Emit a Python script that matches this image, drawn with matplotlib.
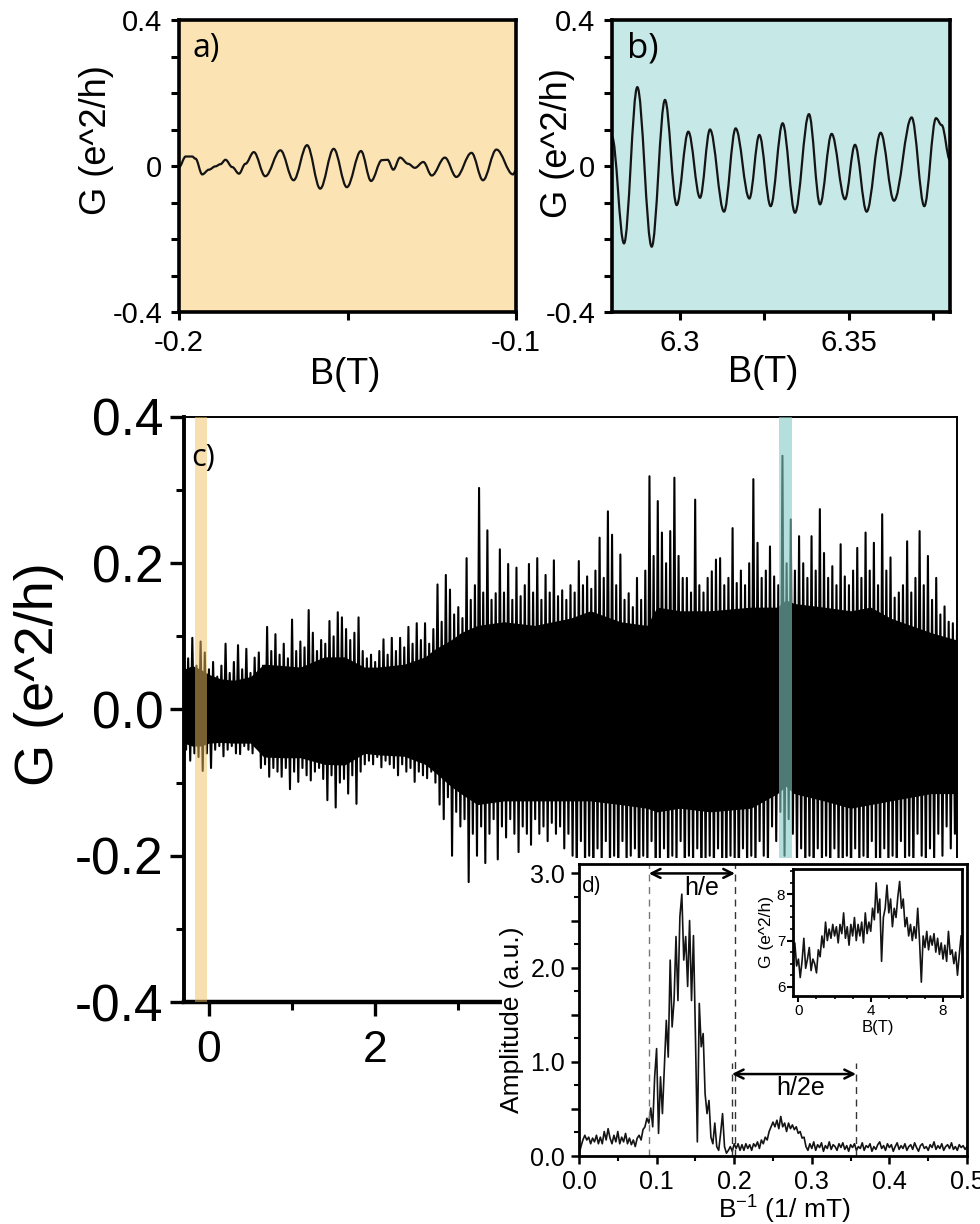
import numpy as np
import matplotlib
matplotlib.use("Agg")
import matplotlib.pyplot as plt
from matplotlib.patches import Rectangle, PathPatch
from matplotlib.path import Path
from matplotlib.ticker import MultipleLocator

plt.rcParams['font.family'] = ['Liberation Sans', 'DejaVu Sans']
plt.rcParams['axes.unicode_minus'] = False

# ---------------- data ----------------
# (a) low-field trace: turning points, B in T, G in e^2/h
a_B = [-0.2000, -0.1980, -0.1961, -0.1951, -0.1931, -0.1911, -0.1892, -0.1877,
       -0.1862, -0.1842, -0.1822, -0.1803, -0.1778, -0.1744, -0.1699, -0.1660,
       -0.1620, -0.1581, -0.1541, -0.1502, -0.1460, -0.1430, -0.1398, -0.1381,
       -0.1364, -0.1344, -0.1320, -0.1300, -0.1275, -0.1250, -0.1211, -0.1177,
       -0.1132, -0.1098, -0.1058, -0.1009, -0.1000]
a_G = [-0.003, 0.026, 0.026, 0.020, -0.023, -0.010, -0.001, 0.005,
       0.017, -0.003, -0.021, 0.006, 0.038, -0.028, 0.043, -0.039,
       0.057, -0.062, 0.047, -0.058, 0.041, -0.041, 0.016, 0.017,
       -0.010, 0.023, 0.006, -0.005, 0.011, -0.026, 0.023, -0.030,
       0.036, -0.039, 0.045, -0.023, -0.012]

# (b) high-field trace: turning points
b_B = [6.2800, 6.28355, 6.28749, 6.29174, 6.29568, 6.29913, 6.30258, 6.30604,
       6.30899, 6.31314, 6.31659, 6.32063, 6.32359, 6.32694, 6.33049, 6.33414,
       6.33828, 6.34154, 6.34499, 6.34893, 6.35189, 6.35534, 6.35949, 6.36343,
       6.36866, 6.37240, 6.37586, 6.37754, 6.3800]
b_G = [0.080, -0.212, 0.216, -0.221, 0.181, -0.107, 0.094, -0.087,
       0.100, -0.125, 0.103, -0.089, 0.085, -0.110, 0.117, -0.128,
       0.142, -0.105, 0.088, -0.091, 0.058, -0.125, 0.091, -0.095,
       0.133, -0.110, 0.131, 0.112, 0.016]

# (c) full sweep -0.3..9 T: maxima and minima of the oscillation, one pair per 0.05 T
c_start, c_step = -0.30, 0.05
c_max = [0.05, 0.07, 0.098, 0.06, 0.093, 0.078, 0.055, 0.065, 0.045, 0.06,
         0.09, 0.05, 0.065, 0.088, 0.055, 0.083, 0.05, 0.071, 0.078, 0.06,
         0.113, 0.08, 0.103, 0.075, 0.09, 0.07, 0.123, 0.08, 0.093, 0.085,
         0.136, 0.105, 0.08, 0.095, 0.09, 0.121, 0.1, 0.133, 0.126, 0.11,
         0.095, 0.105, 0.126, 0.08, 0.07, 0.075, 0.065, 0.08, 0.096, 0.075,
         0.098, 0.08, 0.098, 0.085, 0.113, 0.09, 0.118, 0.095, 0.118, 0.09,
         0.11, 0.171, 0.12, 0.184, 0.164, 0.13, 0.14, 0.125, 0.207, 0.15,
         0.17, 0.303, 0.16, 0.245, 0.15, 0.159, 0.219, 0.16, 0.199, 0.15,
         0.194, 0.155, 0.17, 0.199, 0.16, 0.207, 0.15, 0.184, 0.16, 0.204,
         0.155, 0.163, 0.15, 0.17, 0.16, 0.203, 0.17, 0.182, 0.165, 0.19,
         0.235, 0.18, 0.271, 0.239, 0.17, 0.212, 0.15, 0.159, 0.14, 0.18,
         0.15, 0.19, 0.319, 0.21, 0.285, 0.242, 0.2, 0.244, 0.317, 0.21,
         0.18, 0.18, 0.16, 0.287, 0.17, 0.16, 0.18, 0.189, 0.205, 0.207,
         0.17, 0.18, 0.248, 0.173, 0.19, 0.17, 0.2, 0.315, 0.228, 0.18,
         0.19, 0.223, 0.182, 0.17, 0.347, 0.2, 0.26, 0.19, 0.237, 0.2,
         0.18, 0.237, 0.19, 0.274, 0.214, 0.18, 0.196, 0.17, 0.226, 0.182,
         0.17, 0.19, 0.221, 0.18, 0.242, 0.19, 0.228, 0.17, 0.267, 0.19,
         0.208, 0.153, 0.16, 0.17, 0.23, 0.16, 0.18, 0.244, 0.17, 0.21,
         0.15, 0.18, 0.13, 0.141, 0.12, 0.118, 0.11]
c_min = [-0.055, -0.07, -0.06, -0.065, -0.084, -0.06, -0.08, -0.055, -0.05, -0.064,
         -0.055, -0.05, -0.06, -0.061, -0.05, -0.055, -0.06, -0.05, -0.08, -0.075,
         -0.092, -0.08, -0.085, -0.092, -0.08, -0.109, -0.085, -0.099, -0.08, -0.09,
         -0.097, -0.085, -0.08, -0.095, -0.124, -0.09, -0.134, -0.1, -0.095, -0.115,
         -0.09, -0.129, -0.085, -0.075, -0.07, -0.075, -0.065, -0.079, -0.07, -0.075,
         -0.08, -0.09, -0.075, -0.085, -0.08, -0.099, -0.085, -0.09, -0.094, -0.085,
         -0.1, -0.13, -0.15, -0.12, -0.2, -0.14, -0.16, -0.15, -0.236, -0.17,
         -0.2, -0.16, -0.21, -0.17, -0.15, -0.205, -0.16, -0.175, -0.15, -0.17,
         -0.195, -0.16, -0.17, -0.185, -0.15, -0.17, -0.16, -0.18, -0.155, -0.17,
         -0.16, -0.19, -0.17, -0.2, -0.24, -0.18, -0.22, -0.2, -0.25, -0.19,
         -0.22, -0.18, -0.23, -0.2, -0.24, -0.18, -0.22, -0.2, -0.19, -0.26,
         -0.2, -0.22, -0.18, -0.25, -0.21, -0.19, -0.24, -0.2, -0.22, -0.18,
         -0.24, -0.2, -0.22, -0.19, -0.25, -0.21, -0.2, -0.23, -0.19, -0.22,
         -0.24, -0.2, -0.21, -0.26, -0.19, -0.22, -0.2, -0.23, -0.18, -0.2,
         -0.22, -0.16, -0.18, -0.14, -0.2, -0.15, -0.17, -0.22, -0.19, -0.23,
         -0.2, -0.25, -0.19, -0.22, -0.2, -0.24, -0.19, -0.21, -0.23, -0.2,
         -0.25, -0.19, -0.22, -0.2, -0.24, -0.18, -0.21, -0.23, -0.19, -0.22,
         -0.2, -0.24, -0.18, -0.21, -0.2, -0.23, -0.17, -0.2, -0.22, -0.19,
         -0.21, -0.17, -0.2, -0.16, -0.19, -0.17, -0.18]

# (c) edges of the solid band formed by the densely packed oscillations
core_B = [-0.30, -0.20, -0.10, 0.00, 0.14, 0.30, 0.50, 0.66, 0.90, 1.10, 1.39, 1.63,
          1.87, 2.03, 2.35, 2.60, 2.71, 2.91, 3.03, 3.23, 3.55, 3.92, 4.35, 4.59,
          4.95, 5.27, 5.39, 5.67, 6.03, 6.52, 6.84, 6.94, 7.04, 7.40, 7.72, 7.96,
          8.20, 8.69, 9.00]
core_hi = [0.055, 0.06, 0.055, 0.048, 0.042, 0.04, 0.045, 0.062, 0.06, 0.058, 0.072, 0.072,
           0.058, 0.058, 0.062, 0.072, 0.082, 0.095, 0.105, 0.115, 0.12, 0.115, 0.125, 0.135,
           0.12, 0.115, 0.14, 0.135, 0.135, 0.14, 0.14, 0.15, 0.145, 0.14, 0.135, 0.14,
           0.125, 0.105, 0.095]
core_lo = [-0.046, -0.05, -0.05, -0.046, -0.045, -0.046, -0.046, -0.065, -0.066, -0.066, -0.075, -0.076,
           -0.06, -0.062, -0.064, -0.075, -0.085, -0.105, -0.115, -0.13, -0.125, -0.125, -0.125, -0.125,
           -0.13, -0.135, -0.14, -0.135, -0.14, -0.135, -0.115, -0.105, -0.115, -0.125, -0.135, -0.13,
           -0.125, -0.115, -0.115]

# (d) Fourier amplitude, sampled every 0.0025 (1/mT) from 0
d_step = 0.0025
d_amp = [0.01, 0.10, 0.17, 0.22, 0.17, 0.20, 0.13, 0.19, 0.15, 0.22, 0.13, 0.20,
         0.13, 0.26, 0.17, 0.29, 0.19, 0.13, 0.22, 0.15, 0.26, 0.13, 0.20, 0.15,
         0.24, 0.13, 0.19, 0.12, 0.17, 0.10, 0.19, 0.22, 0.17, 0.28, 0.31, 0.40,
         0.35, 0.51, 0.31, 0.84, 1.14, 0.24, 0.84, 0.45, 0.95, 1.44, 1.05, 2.08,
         1.37, 1.65, 2.33, 1.65, 2.54, 2.78, 2.08, 2.33, 1.80, 2.50, 1.65, 2.34,
         1.30, 0.15, 1.62, 1.16, 1.30, 0.66, 0.45, 0.59, 0.20, 0.13, 0.35, 0.10,
         0.06, 0.24, 0.45, 0.10, 0.03, 0.06, 0.10, 0.05, 0.13, 0.08, 0.13, 0.06,
         0.12, 0.06, 0.13, 0.08, 0.12, 0.06, 0.13, 0.10, 0.15, 0.08, 0.17, 0.13,
         0.20, 0.17, 0.26, 0.31, 0.36, 0.31, 0.38, 0.29, 0.42, 0.31, 0.35, 0.26,
         0.35, 0.29, 0.33, 0.28, 0.31, 0.24, 0.26, 0.19, 0.20, 0.10, 0.06,
         0.13, 0.08, 0.15, 0.06, 0.12, 0.09, 0.14, 0.05, 0.11, 0.08,
         0.15, 0.07, 0.12, 0.10, 0.06, 0.13, 0.09, 0.14, 0.07, 0.11,
         0.05, 0.12, 0.09, 0.13, 0.06, 0.10, 0.08, 0.14, 0.06, 0.11,
         0.09, 0.13, 0.05, 0.10, 0.07, 0.12, 0.15, 0.08, 0.11, 0.06,
         0.13, 0.09, 0.12, 0.05, 0.10, 0.14, 0.07, 0.11, 0.08, 0.13,
         0.06, 0.10, 0.12, 0.07, 0.14, 0.09, 0.05, 0.11, 0.13, 0.08,
         0.10, 0.06, 0.12, 0.09, 0.15, 0.07, 0.11, 0.08, 0.13, 0.06,
         0.10, 0.12, 0.08, 0.14, 0.07, 0.10, 0.06, 0.12, 0.09, 0.11,
         0.07, 0.10]
he_lines = [0.09, 0.201]
h2e_lines = [0.197, 0.357]

# (d, inset) raw conductance, sampled every 0.1 T from -0.3 T
i_start, i_step = -0.3, 0.1
i_G = [6.55, 6.95, 6.45, 6.6, 6.2, 6.55, 7.05, 6.4, 6.6, 6.85, 6.35, 6.6,
       6.5, 6.3, 6.8, 6.65, 7.1, 6.85, 7.4, 7.0, 7.25, 7.05, 7.35, 7.1,
       7.3, 6.95, 7.35, 7.15, 7.6, 7.05, 7.3, 6.9, 7.35, 7.1, 7.5, 7.0,
       7.35, 7.1, 7.4, 6.95, 7.6, 7.15, 7.4, 7.2, 7.7, 7.45, 8.25, 7.6,
       7.9, 6.55, 7.5, 7.7, 8.2, 7.6, 7.9, 7.3, 7.7, 7.5, 7.95, 8.28,
       7.7, 7.9, 7.3, 7.5, 7.1, 7.35, 7.0, 7.3, 7.05, 7.7, 7.0, 6.1,
       7.1, 6.85, 7.2, 6.8, 7.1, 6.9, 7.15, 6.75, 7.05, 6.7, 6.95, 6.6,
       6.9, 6.55, 7.2, 6.7, 6.8, 6.5, 6.75, 6.25, 6.7, 7.1]

ab_yticks = [-0.4, -0.3, -0.2, -0.1, 0.0, 0.1, 0.2, 0.3, 0.4]
ab_ylabels = ['-0.4', '', '', '', '0', '', '', '', '0.4']
a_xticks = [-0.2, -0.15, -0.1]
a_xlabels = ['-0.2', '', '-0.1']
b_xticks = [6.3, 6.325, 6.35, 6.375]
b_xlabels = ['6.3', '', '6.35', '']
c_xticks = [0, 2, 4, 6, 8]
c_xlabels = ['0', '2', '', '', '']
c_yticks = [-0.4, -0.2, 0.0, 0.2, 0.4]
c_ylabels = ['-0.4', '-0.2', '0.0', '0.2', '0.4']
d_xticks = [0.0, 0.1, 0.2, 0.3, 0.4, 0.5]
d_yticks = [0.0, 0.5, 1.0, 1.5, 2.0, 2.5, 3.0]
d_ylabels = ['0.0', '', '1.0', '', '2.0', '', '3.0']

# ---------------- layout ----------------
W, H = 980, 1224
fig = plt.figure(figsize=(W / 100, H / 100), dpi=100)


def box(l, t, r, b):
    return [l / W, 1 - b / H, (r - l) / W, (b - t) / H]


def px(x, y):
    return x / W, 1 - y / H


def turning_point_path(xs, ys, k=0.36):
    """Smooth curve through successive turning points (flat tangent at each)."""
    verts = [(xs[0], ys[0])]
    codes = [Path.MOVETO]
    for i in range(len(xs) - 1):
        dx = xs[i + 1] - xs[i]
        verts += [(xs[i] + k * dx, ys[i]), (xs[i + 1] - k * dx, ys[i + 1]),
                  (xs[i + 1], ys[i + 1])]
        codes += [Path.CURVE4] * 3
    return Path(verts, codes)


LINE = '#141414'
LETTER_FONT = ['Open Sans', 'DejaVu Sans']

# ---- panel a ----
axa = fig.add_axes(box(179, 20, 516, 312))
axa.set_facecolor('#fbe3b4')
axa.add_patch(PathPatch(turning_point_path(a_B, a_G), fill=False,
                        edgecolor=LINE, lw=1.6))
axa.set_xlim(-0.2, -0.1)
axa.set_ylim(-0.4, 0.4)
axa.set_yticks(ab_yticks)
axa.set_yticklabels(ab_ylabels)
axa.set_xticks(a_xticks)
axa.set_xticklabels(a_xlabels)
for s in axa.spines.values():
    s.set_linewidth(2.6)
axa.tick_params(direction='out', length=6, width=2.2, labelsize=21, pad=6)
axa.text(0.04, 0.96, 'a)', transform=axa.transAxes, fontsize=23,
         family=LETTER_FONT, va='top', ha='left')
fig.text(*px(97, 140), 'G (e^2/h)', rotation=90, fontsize=26, ha='center', va='center')
fig.text(*px(345, 374), 'B(T)', fontsize=26, ha='center', va='center')

# ---- panel b ----
axb = fig.add_axes(box(612, 20, 950, 312))
axb.set_facecolor('#c6e8e7')
axb.add_patch(PathPatch(turning_point_path(b_B, b_G), fill=False,
                        edgecolor=LINE, lw=1.6))
axb.set_xlim(6.28, 6.38)
axb.set_ylim(-0.4, 0.4)
axb.set_yticks(ab_yticks)
axb.set_yticklabels(ab_ylabels)
axb.set_xticks(b_xticks)
axb.set_xticklabels(b_xlabels)
for s in axb.spines.values():
    s.set_linewidth(2.6)
axb.tick_params(direction='out', length=6, width=2.2, labelsize=21, pad=6)
axb.text(0.045, 0.96, 'b)', transform=axb.transAxes, fontsize=25,
         family=LETTER_FONT, va='top', ha='left')
fig.text(*px(557, 143), 'G (e^2/h)', rotation=90, fontsize=26, ha='center', va='center')
fig.text(*px(763, 373), 'B(T)', fontsize=26, ha='center', va='center')

# ---- panel c ----
axc = fig.add_axes(box(184, 417, 957, 1002))
axc.set_zorder(1)
n_c = len(c_max)
c_Bmax = c_start + c_step * np.arange(n_c)
c_x = np.empty(2 * n_c)
c_y = np.empty(2 * n_c)
c_x[0::2] = c_Bmax
c_x[1::2] = c_Bmax + c_step / 2
c_y[0::2] = c_max
c_y[1::2] = c_min
axc.fill_between(core_B, core_lo, core_hi, color='black', lw=0)
axc.plot(c_x, c_y, color='black', lw=1.5)
axc.axvspan(-0.17, -0.02, color='#f1c161', alpha=0.5, lw=0, zorder=4)
axc.axvspan(6.86, 7.02, color='#84cbc5', alpha=0.6, lw=0, zorder=4)
axc.set_xlim(-0.3, 9.0)
axc.set_ylim(-0.4, 0.4)
axc.set_xticks(c_xticks)
axc.set_xticklabels(c_xlabels)
axc.xaxis.set_minor_locator(MultipleLocator(1))
axc.set_yticks(c_yticks)
axc.set_yticklabels(c_ylabels)
axc.yaxis.set_minor_locator(MultipleLocator(0.1))
axc.spines['left'].set_linewidth(2.8)
axc.spines['bottom'].set_linewidth(3.2)
axc.spines['top'].set_linewidth(1.4)
axc.spines['right'].set_linewidth(1.4)
axc.tick_params(which='major', direction='out', length=10, width=2.4, pad=5)
axc.tick_params(which='minor', direction='out', length=6, width=2.2)
axc.tick_params(axis='y', labelsize=37)
axc.tick_params(axis='x', labelsize=32, pad=10)
axc.text(0.01, 0.955, 'c)', transform=axc.transAxes, fontsize=22,
         family=LETTER_FONT, va='top', ha='left', zorder=5)
fig.text(*px(39, 674), 'G (e^2/h)', rotation=90, fontsize=39, ha='center', va='center')

# white backing under panel d
fig.add_artist(Rectangle((502 / W, 0), 1 - 502 / W, 1 - 858 / H, transform=fig.transFigure,
                         facecolor='white', edgecolor='none', zorder=2))

# ---- panel d ----
axd = fig.add_axes(box(579, 864, 967, 1156))
axd.set_zorder(3)
d_x = np.arange(len(d_amp)) * d_step
axd.plot(d_x, d_amp, color=LINE, lw=1.2)
axd.vlines(he_lines[0], 0, 3.1, colors='#777777', linestyles=(0, (5, 4)), lw=1.0)
axd.vlines(he_lines[1], 0, 3.1, colors='#333333', linestyles=(0, (5, 4)), lw=1.0)
axd.vlines(h2e_lines, 0, 0.99, colors='#333333', linestyles=(0, (5, 4)), lw=1.0)
axd.annotate('', xy=(he_lines[0], 3.0), xytext=(he_lines[1], 3.0),
             arrowprops=dict(arrowstyle='<->', lw=1.8, color='black',
                             shrinkA=0, shrinkB=0, mutation_scale=16))
axd.annotate('', xy=(h2e_lines[0], 0.87), xytext=(h2e_lines[1], 0.87),
             arrowprops=dict(arrowstyle='<->', lw=1.8, color='black',
                             shrinkA=0, shrinkB=0, mutation_scale=16))
axd.text(0.158, 2.84, 'h/e', fontsize=18, ha='center', va='center')
axd.text(0.285, 0.72, 'h/2e', fontsize=18, ha='center', va='center')
axd.text(0.004, 2.86, 'd)', fontsize=15, ha='left', va='center', family=LETTER_FONT)
axd.set_xlim(0, 0.5)
axd.set_ylim(0, 3.1)
axd.set_xticks(d_xticks)
axd.set_xticklabels([f'{v:.1f}' for v in d_xticks])
axd.xaxis.set_minor_locator(MultipleLocator(0.05))
axd.set_yticks(d_yticks)
axd.set_yticklabels(d_ylabels)
axd.yaxis.set_minor_locator(MultipleLocator(0.25))
for s in axd.spines.values():
    s.set_linewidth(2.0)
axd.tick_params(which='major', direction='out', length=6, width=1.8, labelsize=18, pad=4)
axd.tick_params(which='minor', direction='out', length=3.5, width=1.5)
fig.text(*px(512, 1020), 'Amplitude (a.u.)', rotation=90, fontsize=19,
         ha='center', va='center', zorder=5)
fig.text(*px(784, 1209), r'B$^{\mathregular{-1}}$ (1/ mT)', fontsize=19,
         ha='center', va='center', zorder=5)

# ---- inset of d ----
axi = fig.add_axes(box(793, 869, 962, 996))
axi.set_zorder(4)
i_B = i_start + np.arange(len(i_G)) * i_step
axi.plot(i_B, i_G, color=LINE, lw=1.2)
axi.set_xlim(-0.3, 9.05)
axi.set_ylim(5.8, 8.55)
axi.set_xticks([0, 4, 8])
axi.xaxis.set_minor_locator(MultipleLocator(1))
axi.set_yticks([6, 7, 8])
axi.yaxis.set_minor_locator(MultipleLocator(0.25))
for s in axi.spines.values():
    s.set_linewidth(2.0)
axi.tick_params(which='major', direction='out', length=4, width=1.5, labelsize=11, pad=1.5)
axi.tick_params(which='minor', direction='out', length=2.5, width=1.2)
axi.set_xlabel('B(T)', fontsize=12, labelpad=2)
axi.set_ylabel('G (e^2/h)', fontsize=12.5, labelpad=2)

fig.savefig('out.png', dpi=100)
